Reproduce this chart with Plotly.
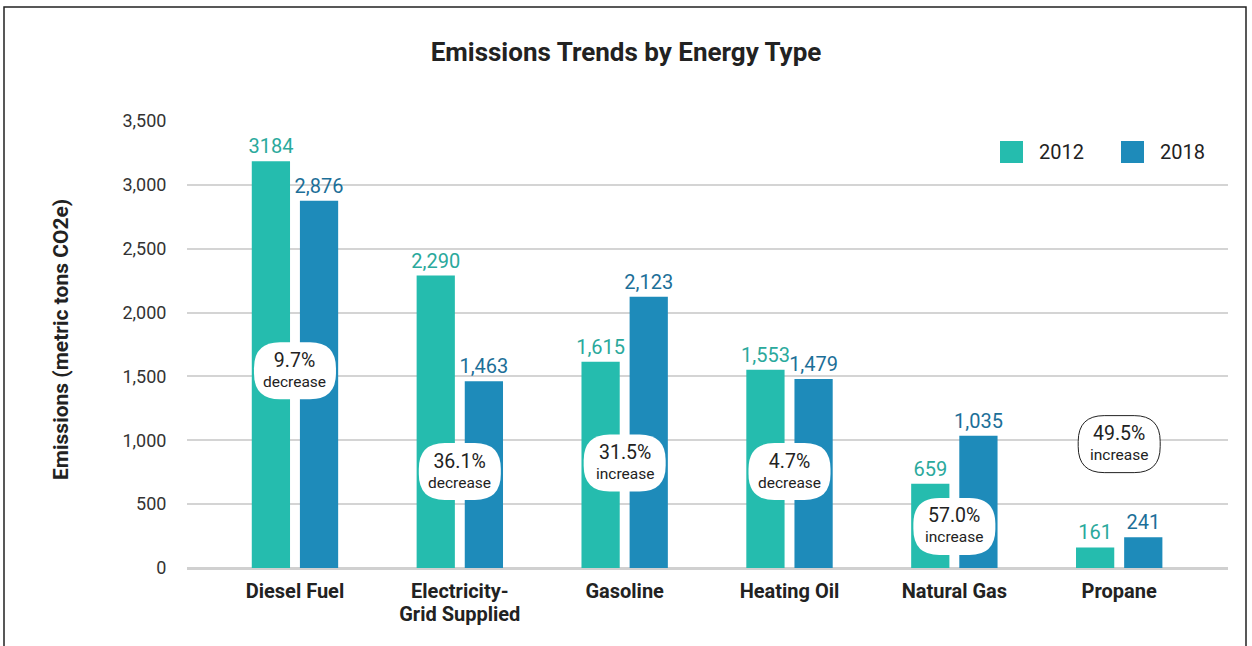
import plotly.graph_objects as go

# Data
categories = ["Diesel Fuel", "Electricity-<br>Grid Supplied", "Gasoline",
              "Heating Oil", "Natural Gas", "Propane"]
emissions_2012 = [3184, 2290, 1615, 1553, 659, 161]
emissions_2018 = [2876, 1463, 2123, 1479, 1035, 241]
labels_2012 = ["3184", "2,290", "1,615", "1,553", "659", "161"]
labels_2018 = ["2,876", "1,463", "2,123", "1,479", "1,035", "241"]
change_pct = ["9.7%", "36.1%", "31.5%", "4.7%", "57.0%", "49.5%"]
change_dir = ["decrease", "decrease", "increase", "decrease", "increase", "increase"]

# where each change bubble sits (y in data units) - layout only
bubble_y = [1545, 755, 822, 755, 325, 970]

W, H = 1252, 646
L, R, T, B = 187, 24, 121, 78
PW, PH = W - L - R, H - T - B

TEAL = "#25BCAE"
BLUE = "#1E8BBA"
TEAL_TXT = "#2AA99C"
BLUE_TXT = "#1C6F98"
FONT = "Roboto"


def px_x(px):
    return (px - L) / PW


def px_y(py):
    return (H - B - py) / PH


def pill(hw, hh, r):
    return (f"M {-hw + r},{-hh} L {hw - r},{-hh} Q {hw},{-hh} {hw},{-hh + r} "
            f"L {hw},{hh - r} Q {hw},{hh} {hw - r},{hh} L {-hw + r},{hh} "
            f"Q {-hw},{hh} {-hw},{hh - r} L {-hw},{-hh + r} Q {-hw},{-hh} {-hw + r},{-hh} Z")


def big(s, size):
    # bigger glyphs on each line while keeping a tight line spacing
    return "<br>".join(f"<span style='font-size:{size}px'>{p}</span>" for p in s.split("<br>"))


x_idx = list(range(len(categories)))
bar_w = 0.232
gap = 0.06

fig = go.Figure()
fig.add_trace(go.Bar(
    x=x_idx, y=emissions_2012, name="2012",
    marker=dict(color=TEAL, line_width=0),
    width=bar_w, offset=-bar_w - gap / 2,
    text=labels_2012, textposition="outside", cliponaxis=False,
    constraintext="none",
    textfont=dict(family=FONT, size=20, color=TEAL_TXT),
    showlegend=False,
))
fig.add_trace(go.Bar(
    x=x_idx, y=emissions_2018, name="2018",
    marker=dict(color=BLUE, line_width=0),
    width=bar_w, offset=gap / 2,
    text=labels_2018, textposition="outside", cliponaxis=False,
    constraintext="none",
    textfont=dict(family=FONT, size=20, color=BLUE_TXT),
    showlegend=False,
))

shapes = []
annotations = []

# change bubbles
for i, (pct, d, by) in enumerate(zip(change_pct, change_dir, bubble_y)):
    last = i == len(categories) - 1
    shapes.append(dict(
        type="path", xref="x", yref="y",
        xsizemode="pixel", ysizemode="pixel", xanchor=i, yanchor=by,
        path=pill(41, 28.5, 26),
        fillcolor="white",
        line=dict(color="#222222" if last else "white", width=1 if last else 0),
        layer="above",
    ))
    annotations.append(dict(
        x=i, y=by, xref="x", yref="y", showarrow=False,
        text=f"<span style='font-size:19.5px'>{pct}</span><br>{d}",
        font=dict(family=FONT, size=15.5, color="#222222"),
        align="center", yshift=1,
    ))

# legend drawn by hand so the swatches match the reference size
legend_items = [("2012", TEAL, 1000), ("2018", BLUE, 1121)]
for name, col, x0 in legend_items:
    shapes.append(dict(
        type="rect", xref="paper", yref="paper",
        x0=px_x(x0), x1=px_x(x0 + 23), y0=px_y(163), y1=px_y(141),
        fillcolor=col, line_width=0,
    ))
    annotations.append(dict(
        x=px_x(x0 + 37), y=px_y(152), xref="paper", yref="paper",
        xanchor="left", yanchor="middle", showarrow=False,
        text=name, font=dict(family=FONT, size=20, color="#222222"),
    ))

# outer frame
shapes.append(dict(
    type="rect", xref="paper", yref="paper",
    x0=px_x(4), x1=px_x(1246), y0=px_y(680), y1=px_y(7),
    line=dict(color="#222222", width=1.5), fillcolor="rgba(0,0,0,0)",
    layer="below",
))

# y-axis title
annotations.append(dict(
    x=px_x(47), y=px_y(340), xref="paper", yref="paper",
    showarrow=False, textangle=-90,
    text="Emissions (metric tons CO2e)",
    font=dict(family=FONT, size=21, color="#222222", weight="bold"),
))

fig.update_layout(
    width=W, height=H,
    margin=dict(l=L, r=R, t=T, b=B),
    paper_bgcolor="white", plot_bgcolor="white",
    title=dict(
        text="Emissions Trends by Energy Type",
        x=0.5, xref="container", xanchor="center",
        y=1 - 52 / H, yanchor="middle",
        font=dict(family=FONT, size=26, color="#222222", weight="bold"),
    ),
    font=dict(family=FONT, color="#333333"),
    shapes=shapes,
    annotations=annotations,
    showlegend=False,
)

fig.update_xaxes(
    tickmode="array", tickvals=x_idx, ticktext=[big(c, 20) for c in categories],
    range=[-0.655, 5.66],
    showgrid=False, zeroline=False, showline=False,
    ticks="outside", ticklen=9, tickcolor="rgba(0,0,0,0)",
    tickfont=dict(family=FONT, size=17, color="#222222", weight="bold"),
)
fig.update_yaxes(
    range=[0, 3500], dtick=500, tickformat=",",
    showgrid=True, gridcolor="#D4D4D4", gridwidth=2,
    zeroline=True, zerolinecolor="#D0D0D0", zerolinewidth=3,
    showline=False,
    ticks="outside", ticklen=16, tickcolor="rgba(0,0,0,0)",
    tickfont=dict(family=FONT, size=18, color="#333333"),
)

# page body has a default 8px margin; drop it so the figure sits at 0,0
fig.write_html("out.html", config={"displayModeBar": False},
               post_script="document.body.style.margin='0px';")
